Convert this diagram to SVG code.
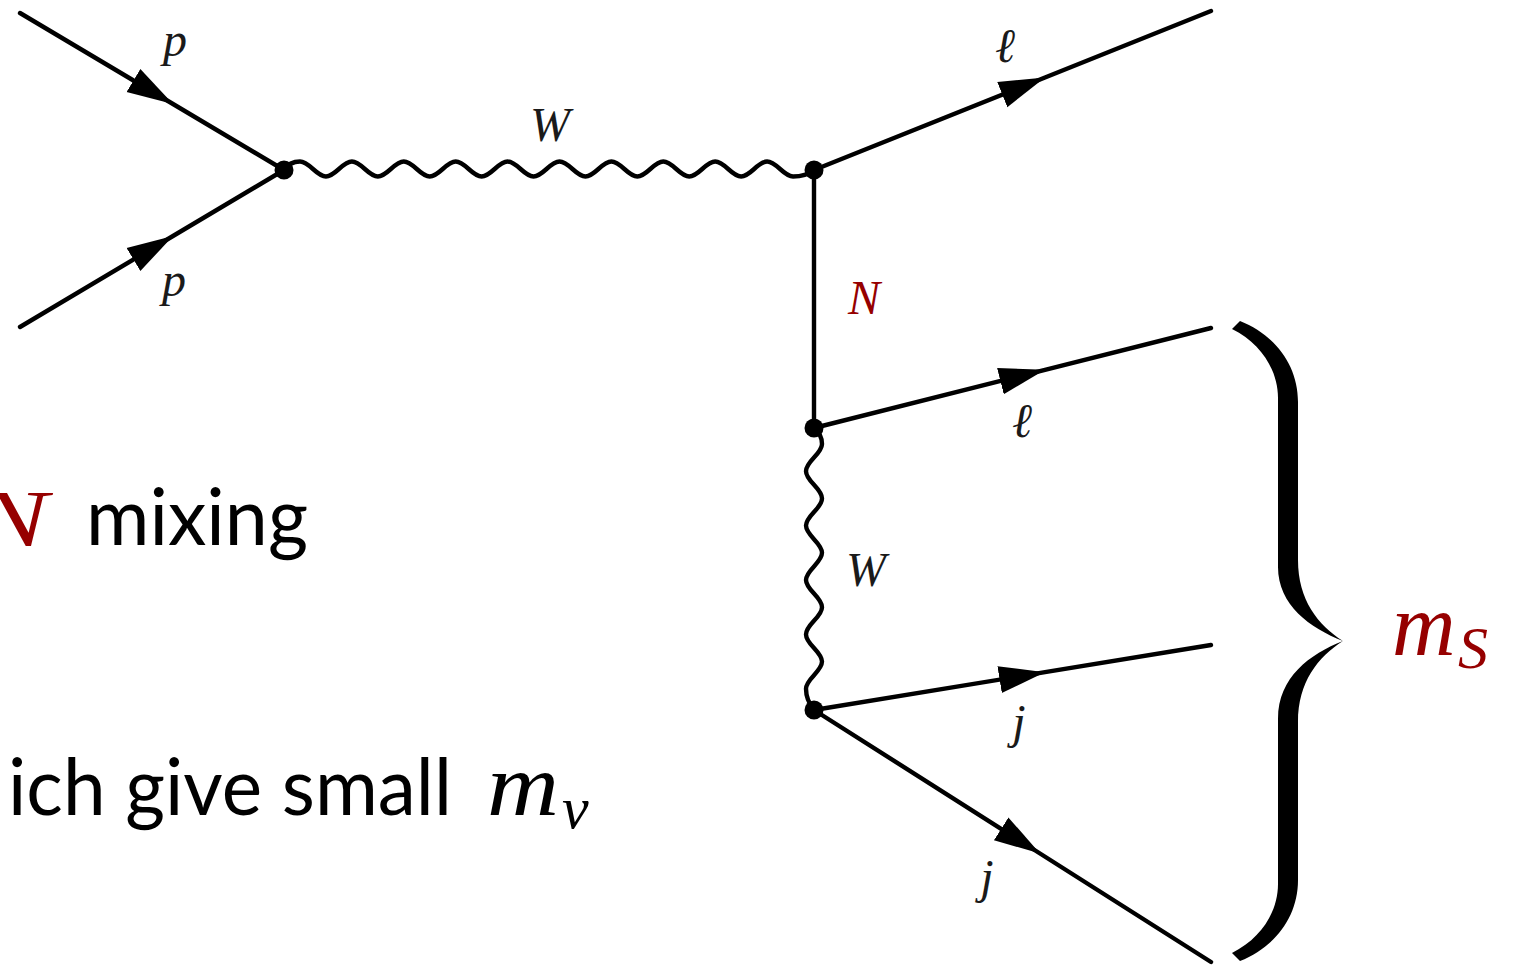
<svg xmlns="http://www.w3.org/2000/svg" width="1524" height="967" viewBox="0 0 1524 967">
<style>
.ln{fill:none;stroke:#000;stroke-width:4.4;stroke-linecap:round}
.fm{marker-mid:url(#arr)}
.lbl{font-family:"Liberation Serif","DejaVu Serif",serif;font-style:italic;font-size:48px;fill:#1a1a1a;text-anchor:middle}
.red{fill:#960000}
.big{font-family:"Lato","Liberation Sans",sans-serif;font-size:80px;fill:#000}
.math{font-family:"Liberation Serif","DejaVu Serif",serif;font-style:italic}
.vtx{fill:#000}
</style>
<defs>
<marker id="arr" markerUnits="userSpaceOnUse" markerWidth="48" markerHeight="30" viewBox="0 0 48 30" refX="46" refY="15" orient="auto">
<path d="M0,1.5 L46,15 L0,28.5 Z" fill="#000"/>
</marker>
</defs>
<rect width="1524" height="967" fill="#fff"/>
<g id="connectors">
<path id="p-top" class="ln fm" d="M20,13 L173,104 L284,170"/>
<path id="p-bot" class="ln fm" d="M20,327 L173,236 L284,170"/>
<path id="W-top" class="ln" d="M284,170 C288,164 293,161.5 300,161.5 c9.43,0 16.52,15 25.95,15 s16.52,-15 25.95,-15 s16.52,15 25.95,15 s16.52,-15 25.95,-15 s16.52,15 25.95,15 s16.52,-15 25.95,-15 s16.52,15 25.95,15 s16.52,-15 25.95,-15 s16.52,15 25.95,15 s16.52,-15 25.95,-15 s16.52,15 25.95,15 s16.52,-15 25.95,-15 s16.52,15 25.95,15 s16.52,-15 25.95,-15 s16.52,15 25.95,15 s16.52,-15 25.95,-15 s16.52,15 25.95,15 s16.52,-15 25.95,-15 s16.52,15 25.95,15 C802,176.5 809,174 814,170"/>
<path id="l-top" class="ln fm" d="M814,170 L1045,77.5 L1211,11"/>
<path id="N-line" class="ln" d="M814,170 L814,428"/>
<path id="l-low" class="ln fm" d="M814,428 L1045,369.8 L1211,328"/>
<path id="W-vert" class="ln" d="M814,428 C819,432 822,437 822,444 c0,9.88 -16,17.32 -16,27.2 s16,17.32 16,27.2 s-16,17.32 -16,27.2 s16,17.32 16,27.2 s-16,17.32 -16,27.2 s16,17.32 16,27.2 s-16,17.32 -16,27.2 s16,17.32 16,27.2 s-16,17.32 -16,27.2 C806,697 810,705 814,710"/>
<path id="j-up" class="ln fm" d="M814,710 L1045,672.2 L1211,645"/>
<path id="j-low" class="ln fm" d="M814,710 L1040,853.5 L1211,962"/>
</g>
<g id="v1"><circle class="vtx" cx="284" cy="170" r="9.5"/></g>
<g id="v2"><circle class="vtx" cx="814" cy="170" r="9.5"/></g>
<g id="v3"><circle class="vtx" cx="814" cy="428" r="9.5"/></g>
<g id="v4"><circle class="vtx" cx="814" cy="710" r="9.5"/></g>
<g id="labels">
<text class="lbl" x="175" y="56" font-size="46">p</text>
<text class="lbl" x="174" y="296" font-size="46">p</text>
<text class="lbl" x="550" y="141">W</text>
<text class="lbl" x="1005" y="62">ℓ</text>
<text class="lbl red" x="864" y="314">N</text>
<text class="lbl" x="1022" y="437">ℓ</text>
<text class="lbl" x="866" y="586">W</text>
<text class="lbl" x="1019" y="738">j</text>
<text class="lbl" x="987" y="893">j</text>
</g>
<g id="brace">
<path fill="#000" d="M1240,321 C1275,335 1298,365 1298,402 L1298,560 C1298,600 1318,625 1343,641 C1318,657 1298,682 1298,722 L1298,880 C1298,917 1275,947 1240,961 L1232,953 C1262,938 1278,911 1278,884 L1278,719 C1278,677 1310,654 1343,641 C1310,628 1278,605 1278,567 L1278,398 C1278,371 1262,344 1232,329 Z"/>
</g>
<g id="mS">
<text class="math red" x="1392" y="655" font-size="88">m</text>
<text class="math red" x="1458" y="668" font-size="60">S</text>
</g>
<g id="text-left">
<text class="math red" x="-26" y="546" font-size="80" textLength="74" lengthAdjust="spacingAndGlyphs">N</text>
<text class="big" x="86" y="545" textLength="222" lengthAdjust="spacingAndGlyphs">mixing</text>
<text class="big" x="8" y="815" textLength="444" lengthAdjust="spacingAndGlyphs">ich give small</text>
<text class="math" x="487" y="815" font-size="88" textLength="72" lengthAdjust="spacingAndGlyphs">m</text>
<text class="math" x="562" y="828" font-size="60">ν</text>
</g>
</svg>
